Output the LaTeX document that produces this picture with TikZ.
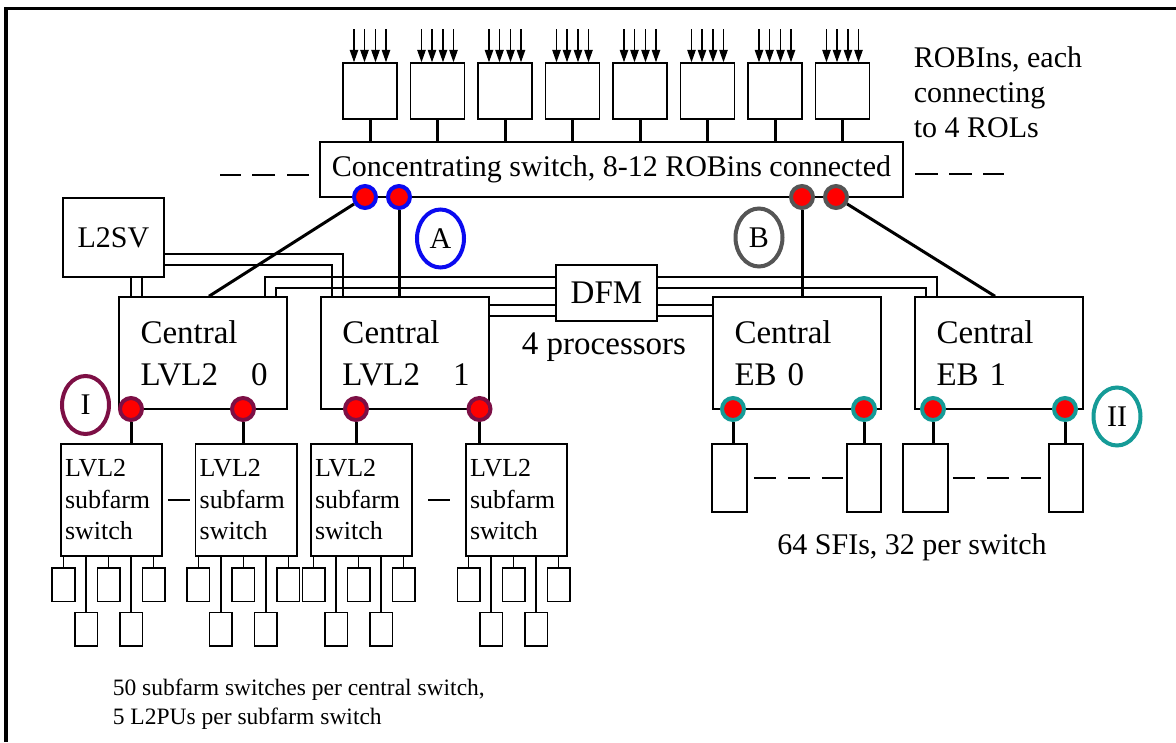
\documentclass[tikz,border=0pt]{standalone}
\usepackage{fontspec}
\setmainfont{Liberation Serif}
\usetikzlibrary{arrows.meta, positioning, calc, shapes.geometric}
\definecolor{tBlue}{HTML}{0A0AF0}
\definecolor{tGray}{HTML}{555555}
\definecolor{tTeal}{HTML}{159B97}
\definecolor{tWine}{HTML}{7D0F45}
\definecolor{tRed}{HTML}{FF0000}
\tikzset{
  tbox/.style={draw, line width=0.6pt, inner sep=0pt},
  tcen/.style={tbox, align=left, text width=50pt, inner xsep=8.6pt,
               minimum height=44.8pt, font=\fontsize{13.2}{16.8}\selectfont},
  tsub/.style={tbox, align=left, text width=37.2pt, inner xsep=1.6pt,
               minimum height=44.8pt, font=\fontsize{10.4}{12.6}\selectfont},
  tpu/.style={tbox, minimum width=9pt, minimum height=13.4pt},
  tport/.style={circle, fill=tRed, draw=#1, line width=1.6pt,
                minimum size=8.8pt, inner sep=0pt},
  ttag/.style={ellipse, draw=#1, line width=1.6pt, minimum width=18.8pt,
               minimum height=23.2pt, inner sep=0pt},
  tlink/.style={line width=1.2pt},
  tbus/.style={line width=0.6pt},
  tgap/.style={line width=0.5pt, dash pattern=on 9pt off 4.6pt},
  trol/.style={line width=0.5pt, -{Triangle[length=5pt, width=3.4pt]}},
}
\begin{document}
\begin{tikzpicture}[x=0.4pt, y=-0.4pt, font=\fontsize{12}{14}\selectfont]
    \useasboundingbox (0,0) rectangle (1176,742);
    \draw[line width=1.2pt] (6,742) -- (6,8) -- (1176,8);
    % ROBIns and the concentrating switch
    \node[tbox, minimum width=233.2pt, minimum height=22pt] (sw) at (611.5,169.5) {Concentrating switch, 8-12 ROBins connected};
    \foreach \i in {1,...,8} {
      \node[tbox, minimum width=21.6pt, minimum height=22.4pt] (r\i) at ({370+67.5*(\i-1)},91) {};
      \foreach \o in {-6.4pt,-2.2pt,2.2pt,6.4pt}
        \draw[trol] ([xshift=\o]r\i.north) +(0,-33) -- ([xshift=\o]r\i.north);
      \draw[tlink] (r\i) -- (r\i |- sw.north);
    }
    \coordinate (gl) at (309,175);
    \coordinate (gr) at (915,174);
    \draw[tgap] (gl) -- ++(-89,0);
    \draw[tgap] (gr) -- ++(89,0);
    \node[anchor=west, align=left] (robtxt) at (905,92) {ROBIns, each\\connecting\\to 4 ROLs};
    \node[tport=tBlue] (pa1) at (365,197) {};
    \node[tport=tBlue] (pa2) at (399,197) {};
    \node[tport=tGray] (pb1) at (802,197) {};
    \node[tport=tGray] (pb2) at (836,197) {};
    \node[ttag=tBlue] (ta) at (440.5,238.5) {A};
    \node[ttag=tGray] (tb) at (759,237.5) {B};
    % central switches, supervisor and flow manager
    \node[tbox, minimum width=40.4pt, minimum height=31.6pt] (sv) at (113.5,237.5) {L2SV};
    \node[tcen] (l0) at (203,353) {Central\\LVL2~~~0};
    \node[tcen] (l1) at (405,353) {Central\\LVL2~~~1};
    \node[tcen] (e0) at (797,353) {Central\\EB 0};
    \node[tcen] (e1) at (999,353) {Central\\EB 1};
    \node[tbox, minimum width=40.4pt, minimum height=22.4pt, font=\fontsize{13.2}{16}\selectfont] (dfm) at (606.5,293) {DFM};
    \node[font=\fontsize{13.2}{16}\selectfont] (proc) at (604,347) {4 processors};
    \draw[tbus] (131,0 |- sv.south) -- (131,0 |- l0.north);
    \draw[tbus] (142,0 |- sv.south) -- (142,0 |- l0.north);
    \draw[tbus] (sv.east |- 0,254) -| (343,0 |- l1.north);
    \draw[tbus] (sv.east |- 0,265) -| (332,0 |- l1.north);
    \draw[tbus] (dfm.west |- 0,277) -| (265,0 |- l0.north);
    \draw[tbus] (dfm.west |- 0,288) -| (276,0 |- l0.north);
    \draw[tbus] (dfm.west |- 0,305) -- (l1.east |- 0,305);
    \draw[tbus] (dfm.west |- 0,316) -- (l1.east |- 0,316);
    \draw[tbus] (dfm.east |- 0,305) -- (e0.west |- 0,305);
    \draw[tbus] (dfm.east |- 0,316) -- (e0.west |- 0,316);
    \draw[tbus] (dfm.east |- 0,277) -| (937,0 |- e1.north);
    \draw[tbus] (dfm.east |- 0,288) -| (926,0 |- e1.north);
    \draw[tlink] (pa1) -- (209,0 |- l0.north);
    \draw[tlink] (pa2) -- (pa2 |- l1.north);
    \draw[tlink] (pb1) -- (pb1 |- e0.north);
    \draw[tlink] (pb2) -- (995,0 |- e1.north);
    % LVL2 subfarms
    \foreach \x [count=\i] in {131,243,356,479.5}
      \node[tport=tWine] (p\i) at (\x,409) {};
    \node[ttag=tWine] (ti) at (85.5,405) {I};
    \foreach \x [count=\i] in {111.5,246.25,361.5,516.5} {
      \node[tsub] (s\i) at (\x,500) {LVL2\\subfarm\\switch};
      \draw[tlink] (p\i) -- (p\i |- s\i.north);
      \foreach \o/\yy [count=\j] in {-48/584.5,-25.5/629,-3/584.5,19.5/629,42/584.5} {
        \node[tpu] (u\i\j) at ({\x+(\o)},\yy) {};
        \draw[tbus] (s\i.south -| u\i\j.north) -- (u\i\j.north);
      }
    }
    \draw[tbus] ($(s1.east)!.5!(s2.west)+(-11,0)$) -- ++(22,0);
    \draw[tbus] ($(s3.east)!.5!(s4.west)+(-11,0)$) -- ++(22,0);
    \node[anchor=west, align=left, font=\fontsize{9.4}{11.4}\selectfont] (putxt) at (104,704) {50 subfarm switches per central switch,\\5 L2PUs per subfarm switch};
    % SFIs
    \foreach \x [count=\i] in {733,864,933,1065}
      \node[tport=tTeal] (q\i) at (\x,409) {};
    \node[ttag=tTeal] (tii) at (1117,416.5) {II};
    \node[tbox, minimum width=14pt, minimum height=27.2pt] (f1) at (729.5,478) {};
    \node[tbox, minimum width=13.6pt, minimum height=27.2pt] (f2) at (864,478) {};
    \node[tbox, minimum width=18pt, minimum height=27.2pt] (f3) at (925.5,478) {};
    \node[tbox, minimum width=13.6pt, minimum height=27.2pt] (f4) at (1066,478) {};
    \foreach \i in {1,...,4}
      \draw[tlink] (q\i) -- (q\i |- f\i.north);
    \draw[tgap] ([xshift=2.4pt]f1.east) -- ([xshift=-1.2pt]f2.west);
    \draw[tgap] ([xshift=1.6pt]f3.east) -- ([xshift=-2.8pt]f4.west);
    \node (sfitxt) at (912,547) {64 SFIs, 32 per switch};
\end{tikzpicture}
\end{document}
